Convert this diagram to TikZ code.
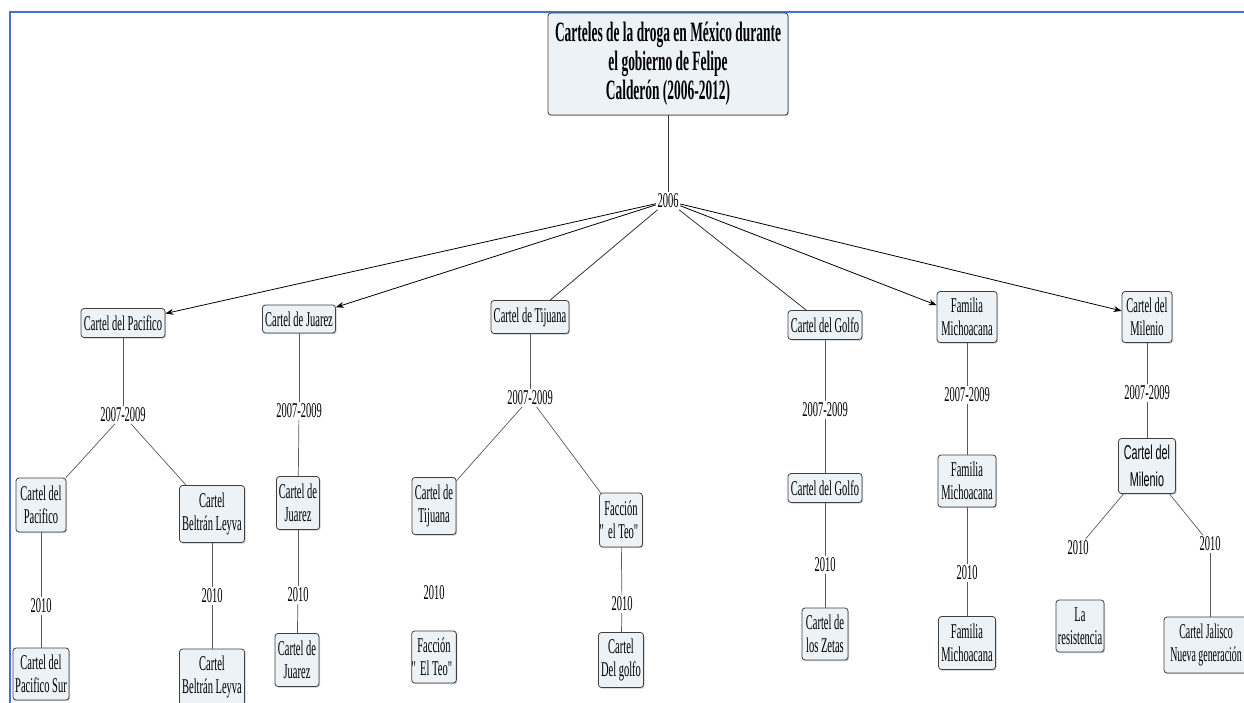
\documentclass[tikz,border=0pt]{standalone}
\usepackage{fontspec}
\setmainfont{Liberation Serif}[FakeStretch=0.5]
\newfontfamily\titlefont{Liberation Serif}[FakeStretch=0.48]
\newfontfamily\narrowsans{Liberation Sans}[FakeStretch=0.54]
\newfontfamily\tightserif{Liberation Serif}[FakeStretch=0.47]
\usetikzlibrary{arrows.meta,shadows}
\definecolor{boxfill}{RGB}{236,242,245}
\definecolor{frameblue}{RGB}{68,114,196}
\tikzset{
  box/.style={draw=black!75, line width=0.8pt, rounded corners=3pt, fill=boxfill, align=center,
    inner sep=0pt, font=\fontsize{21}{23}\selectfont,
    drop shadow={shadow xshift=1pt, shadow yshift=-1.2pt, fill=black!40, opacity=0.5}},
  yearlbl/.style={inner sep=1.5pt, font=\fontsize{21}{23}\selectfont},
  conn/.style={draw=black!65, line width=0.7pt},
  arr/.style={draw=black, line width=0.8pt, -{Stealth[length=8pt,width=6pt]}},
  plain/.style={draw=black!80, line width=0.8pt}
}
\begin{document}
\begin{tikzpicture}[x=1pt,y=-1pt]
\useasboundingbox (0,0) rectangle (1244,702);
\clip (0,0) rectangle (1244,702);
\fill[white] (0,0) rectangle (1244,702);
% frame
\draw[frameblue, line width=2.2pt] (10,703) -- (10,12) -- (1245,12);

% title
\node[box, minimum width=240, minimum height=102, font=\titlefont\bfseries\fontsize{28}{29}\selectfont] (title) at (668,64) {Carteles de la droga en México durante\\el gobierno de Felipe\\Calderón (2006-2012)};
\node[yearlbl] (y2006) at (668,201) {2006};

% level 1
\node[box, minimum width=84, minimum height=29] (p1) at (123,323) {Cartel del Pacifico};
\node[box, minimum width=73, minimum height=28] (j1) at (299,319) {Cartel de Juarez};
\node[box, minimum width=78, minimum height=33] (t1) at (530,317) {Cartel de Tijuana};
\node[box, minimum width=74, minimum height=29] (g1) at (825,325) {Cartel del Golfo};
\node[box, minimum width=60, minimum height=51] (m1) at (967,317) {Familia\\Michoacana};
\node[box, minimum width=50, minimum height=51] (k1) at (1147,317) {Cartel del\\Milenio};

% 2007-2009
\node[yearlbl] (pY) at (123,415) {2007-2009};
\node[yearlbl] (jY) at (299,411) {2007-2009};
\node[yearlbl] (tY) at (530,398) {2007-2009};
\node[yearlbl] (gY) at (825,410) {2007-2009};
\node[yearlbl] (mY) at (967,395) {2007-2009};
\node[yearlbl] (kY) at (1147,393) {2007-2009};

% level 3
\node[box, minimum width=50, minimum height=54] (p2a) at (41,505) {Cartel del\\Pacifico};
\node[box, minimum width=65, minimum height=57] (p2b) at (212,514) {Cartel\\Beltrán Leyva};
\node[box, minimum width=43, minimum height=53] (j2) at (298,503) {Cartel de\\Juarez};
\node[box, minimum width=44, minimum height=57] (t2a) at (434,506) {Cartel de\\Tijuana};
\node[box, minimum width=42, minimum height=54] (t2b) at (621,520) {Facción\\\textquotedbl el Teo\textquotedbl};
\node[box, minimum width=74, minimum height=29] (g2) at (825,488) {Cartel del Golfo};
\node[box, minimum width=58, minimum height=52] (m2) at (967,481) {Familia\\Michoacana};
\node[box, minimum width=57, minimum height=55, font=\narrowsans\fontsize{20}{27}\selectfont] (k2) at (1147,466) {Cartel del\\Milenio};

% 2010
\node[yearlbl] (pZ) at (41,606) {2010};
\node[yearlbl] (bZ) at (212,596) {2010};
\node[yearlbl] (jZ) at (298,595) {2010};
\node[yearlbl] (tZ) at (434,593) {2010};
\node[yearlbl] (eZ) at (622,604) {2010};
\node[yearlbl] (gZ) at (825,565) {2010};
\node[yearlbl] (mZ) at (967,573) {2010};
\node[yearlbl] (kZa) at (1078,548) {2010};
\node[yearlbl] (kZb) at (1210,544) {2010};

% level 5
\node[box, minimum width=56, minimum height=52] (p3) at (41,674) {Cartel del\\Pacifico Sur};
\node[box, minimum width=65, minimum height=56] (b3) at (212,677) {Cartel\\Beltrán Leyva};
\node[box, minimum width=44, minimum height=53] (j3) at (297,660) {Cartel de\\Juarez};
\node[box, minimum width=42, minimum height=52] (t3) at (434,657) {Facción\\\textquotedbl El Teo\textquotedbl};
\node[box, minimum width=45, minimum height=55] (e3) at (621,660) {Cartel\\Del golfo};
\node[box, minimum width=46, minimum height=52] (g3) at (825,634) {Cartel de\\los Zetas};
\node[box, minimum width=57, minimum height=53] (m3) at (967,643) {Familia\\Michoacana};
\node[box, minimum width=48, minimum height=52] (k3a) at (1080,626) {La\\resistencia};
\node[box, minimum width=84, minimum height=56, font=\tightserif\fontsize{21}{23}\selectfont] (k3b) at (1206,645) {Cartel Jalisco\\Nueva generación};

% connectors from top
\draw[plain] (title) -- (y2006);
\draw[arr] (y2006) -- (p1);
\draw[arr] (y2006) -- (j1);
\draw[plain] (y2006) -- (t1);
\draw[plain] (y2006) -- (g1);
\draw[arr] (y2006) -- (m1);
\draw[arr] (y2006) -- (k1);

% level 1 -> 2007-2009
\draw[conn] (p1) -- (pY);
\draw[conn] (j1) -- (jY);
\draw[conn] (t1) -- (tY);
\draw[conn] (g1) -- (gY);
\draw[conn] (m1) -- (mY);
\draw[conn] (k1) -- (kY);

% 2007-2009 -> level 3
\draw[conn] (pY) -- (p2a);
\draw[conn] (pY) -- (p2b);
\draw[conn] (jY) -- (j2);
\draw[conn] (tY) -- (t2a);
\draw[conn] (tY) -- (t2b);
\draw[conn] (gY) -- (g2);
\draw[conn] (mY) -- (m2);
\draw[conn] (kY) -- (k2);

% level 3 -> 2010
\draw[conn] (p2a) -- (pZ);
\draw[conn] (p2b) -- (bZ);
\draw[conn] (j2) -- (jZ);
\draw[conn] (t2b) -- (eZ);
\draw[conn] (g2) -- (gZ);
\draw[conn] (m2) -- (mZ);
\draw[conn] (k2) -- (kZa);
\draw[conn] (k2) -- (kZb);

% 2010 -> level 5
\draw[conn] (pZ) -- (p3);
\draw[conn] (bZ) -- (b3);
\draw[conn] (jZ) -- (j3);
\draw[conn] (eZ) -- (e3);
\draw[conn] (gZ) -- (g3);
\draw[conn] (mZ) -- (m3);
\draw[conn] (kZb.south) -- (kZb.south |- k3b.north);
\end{tikzpicture}
\end{document}
